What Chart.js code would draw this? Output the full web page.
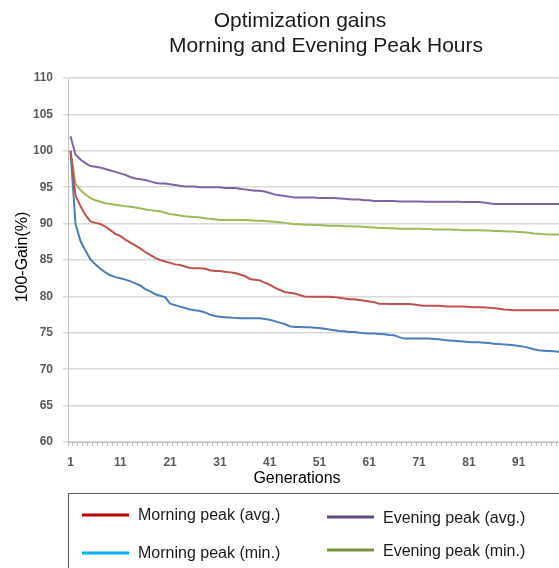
<!DOCTYPE html>
<html>
<head>
<meta charset="utf-8">
<script src="https://cdn.jsdelivr.net/npm/chart.js@4"></script>
<style>
  html, body { margin: 0; padding: 0; background: #fff; overflow: hidden; }
  #wrap { width: 559px; height: 568px; overflow: hidden; }
</style>
</head>
<body>
<div id="wrap"><canvas id="chart" width="600" height="568"></canvas></div>
<script>
const titleLines = ['Optimization gains', 'Morning and Evening Peak Hours'];
const xTitle = 'Generations';
const yTitle = '100-Gain(%)';

// generations 1..100
const generations = Array.from({ length: 100 }, (_, i) => String(i + 1));
const xTickLabels = ['1', '11', '21', '31', '41', '51', '61', '71', '81', '91'];

const morningAvg = [
  100.0, 93.9, 92.4, 91.2, 90.3, 90.1, 89.95, 89.6, 89.1, 88.6,
  88.3, 87.8, 87.4, 87.0, 86.6, 86.1, 85.7, 85.3, 85.0, 84.8,
  84.6, 84.4, 84.3, 84.1, 83.9, 83.85, 83.85, 83.8, 83.6, 83.5,
  83.5, 83.4, 83.3, 83.2, 83.0, 82.8, 82.4, 82.3, 82.2, 81.9,
  81.6, 81.2, 80.9, 80.6, 80.5, 80.4, 80.2, 80.0, 79.95, 79.95,
  79.95, 79.95, 79.95, 79.9, 79.8, 79.7, 79.6, 79.6, 79.5, 79.4,
  79.3, 79.2, 79.0, 79.0, 78.95, 78.95, 78.95, 78.95, 78.95, 78.9,
  78.8, 78.7, 78.7, 78.7, 78.7, 78.65, 78.6, 78.6, 78.6, 78.6,
  78.55, 78.5, 78.5, 78.5, 78.45, 78.4, 78.3, 78.2, 78.15, 78.1,
  78.1, 78.1, 78.1, 78.1, 78.1, 78.1, 78.1, 78.1, 78.1, 78.1
];

const morningMin = [
  100.0, 90.0, 87.6, 86.3, 85.1, 84.4, 83.8, 83.3, 82.9, 82.65,
  82.5, 82.3, 82.1, 81.8, 81.5, 81.0, 80.7, 80.3, 80.1, 79.9,
  79.0, 78.8, 78.6, 78.4, 78.2, 78.1, 78.0, 77.8, 77.5, 77.3,
  77.2, 77.15, 77.1, 77.05, 77.0, 77.0, 77.0, 77.0, 77.0, 76.9,
  76.8, 76.6, 76.4, 76.2, 75.9, 75.8, 75.8, 75.75, 75.75, 75.7,
  75.65, 75.55, 75.45, 75.35, 75.25, 75.2, 75.1, 75.1, 75.0, 74.95,
  74.9, 74.9, 74.85, 74.8, 74.7, 74.65, 74.4, 74.2, 74.2, 74.2,
  74.2, 74.2, 74.2, 74.15, 74.1, 74.0, 73.95, 73.9, 73.85, 73.8,
  73.75, 73.7, 73.7, 73.65, 73.6, 73.5, 73.45, 73.4, 73.35, 73.3,
  73.2, 73.1, 72.95, 72.75, 72.6, 72.55, 72.5, 72.45, 72.4, 72.35
];

const eveningAvg = [
  102.0, 99.5, 98.8, 98.3, 97.9, 97.8, 97.7, 97.5, 97.3, 97.1,
  96.9, 96.7, 96.4, 96.2, 96.1, 96.0, 95.8, 95.6, 95.5, 95.5,
  95.4, 95.3, 95.2, 95.1, 95.1, 95.1, 95.0, 95.0, 95.0, 95.0,
  95.0, 94.9, 94.9, 94.9, 94.8, 94.7, 94.6, 94.5, 94.5, 94.4,
  94.2, 94.0, 93.9, 93.8, 93.7, 93.6, 93.6, 93.6, 93.6, 93.6,
  93.5, 93.5, 93.5, 93.5, 93.45, 93.4, 93.35, 93.3, 93.3, 93.2,
  93.2, 93.1, 93.1, 93.1, 93.1, 93.1, 93.05, 93.05, 93.05, 93.05,
  93.05, 93.0, 93.0, 93.0, 93.0, 93.0, 93.0, 93.0, 93.0, 92.95,
  92.95, 92.95, 92.95, 92.9, 92.8, 92.7, 92.7, 92.7, 92.7, 92.7,
  92.7, 92.7, 92.7, 92.7, 92.7, 92.7, 92.7, 92.7, 92.7, 92.7
];

const eveningMin = [
  100.0, 95.5, 94.6, 94.0, 93.5, 93.2, 93.0, 92.8, 92.7, 92.6,
  92.5, 92.4, 92.3, 92.2, 92.1, 91.95, 91.85, 91.75, 91.7, 91.5,
  91.3, 91.2, 91.1, 91.0, 90.95, 90.9, 90.85, 90.75, 90.65, 90.6,
  90.5, 90.5, 90.5, 90.5, 90.5, 90.5, 90.45, 90.4, 90.4, 90.35,
  90.3, 90.25, 90.2, 90.1, 90.0, 89.9, 89.9, 89.85, 89.85, 89.8,
  89.8, 89.75, 89.7, 89.7, 89.7, 89.65, 89.65, 89.6, 89.6, 89.55,
  89.5, 89.45, 89.4, 89.4, 89.35, 89.35, 89.3, 89.3, 89.3, 89.3,
  89.3, 89.25, 89.25, 89.2, 89.2, 89.2, 89.2, 89.15, 89.15, 89.1,
  89.1, 89.1, 89.1, 89.05, 89.05, 89.0, 89.0, 88.95, 88.9, 88.9,
  88.85, 88.8, 88.75, 88.65, 88.6, 88.55, 88.5, 88.5, 88.5, 88.45
];

const seriesNames = ['Morning peak (avg.)', 'Morning peak (min.)', 'Evening peak (avg.)', 'Evening peak (min.)'];
const lineColors = ['#c0504d', '#4a7ebb', '#8064a2', '#9bbb59'];
// the legend swatches use different colours than the plotted lines
const legendColors = ['#c00000', '#00b0f0', '#604a7b', '#77933c'];

const FONT = '"Liberation Sans", Arial, sans-serif';

// title, axis titles and boxed legend
const textPlugin = {
  id: 'textPlugin',
  afterDraw(chart) {
    const c = chart.ctx;
    c.save();
    c.fillStyle = '#1a1a1a';
    c.font = '21px ' + FONT;
    c.textAlign = 'center';
    c.textBaseline = 'alphabetic';
    c.fillText(titleLines[0], 300, 27);
    c.fillText(titleLines[1], 326, 52);

    c.font = '16px ' + FONT;
    c.fillStyle = '#000';
    c.fillText(xTitle, 297, 483);

    c.save();
    c.translate(27, 257);
    c.rotate(-Math.PI / 2);
    c.fillText(yTitle, 0, 0);
    c.restore();

    // legend box
    c.strokeStyle = '#595959';
    c.lineWidth = 1;
    c.strokeRect(68.5, 493.5, 600, 120);

    const items = [
      { x: 82, ly: 515, ty: 520 },
      { x: 82, ly: 553, ty: 558 },
      { x: 327, ly: 517, ty: 523 },
      { x: 327, ly: 550, ty: 556 }
    ];
    c.textAlign = 'left';
    c.font = '16px ' + FONT;
    items.forEach((it, i) => {
      c.strokeStyle = legendColors[i];
      c.lineWidth = 3;
      c.beginPath();
      c.moveTo(it.x, it.ly);
      c.lineTo(it.x + 47, it.ly);
      c.stroke();
      c.fillStyle = '#1a1a1a';
      c.fillText(seriesNames[i], it.x + 56, it.ty);
    });
    c.restore();
  }
};

const ctx = document.getElementById('chart').getContext('2d');

const chart = new Chart(ctx, {
  type: 'line',
  data: {
    labels: generations,
    datasets: [
      { label: seriesNames[0], data: morningAvg, borderColor: lineColors[0] },
      { label: seriesNames[1], data: morningMin, borderColor: lineColors[1] },
      { label: seriesNames[2], data: eveningAvg, borderColor: lineColors[2] },
      { label: seriesNames[3], data: eveningMin, borderColor: lineColors[3] }
    ]
  },
  options: {
    responsive: false,
    animation: false,
    devicePixelRatio: 1,
    layout: { padding: { left: 0, top: 78, right: 34, bottom: 96 } },
    elements: {
      point: { radius: 0 },
      line: { borderWidth: 2, tension: 0 }
    },
    plugins: {
      legend: { display: false },
      title: { display: false },
      tooltip: { enabled: false }
    },
    scales: {
      x: {
        type: 'category',
        offset: true,
        afterFit: s => { s.height = 30; },
        grid: {
          offset: true,
          drawOnChartArea: false,
          drawTicks: true,
          tickLength: 4,
          color: '#bfbfbf'
        },
        border: { color: '#bfbfbf' },
        ticks: {
          autoSkip: false,
          maxRotation: 0,
          padding: 9,
          color: '#595959',
          font: { family: FONT, size: 12, weight: 'bold' },
          callback: function (val, i) {
            const lab = this.getLabelForValue(val);
            return xTickLabels.includes(lab) ? lab : '';
          }
        }
      },
      y: {
        min: 60,
        max: 110,
        afterFit: s => { s.width = 68; },
        grid: { color: '#d9d9d9', lineWidth: 1.5, tickLength: 5 },
        border: { color: '#bfbfbf' },
        ticks: {
          stepSize: 5,
          padding: 10,
          color: '#595959',
          font: { family: FONT, size: 12, weight: 'bold' }
        }
      }
    }
  },
  plugins: [textPlugin]
});
</script>
</body>
</html>
